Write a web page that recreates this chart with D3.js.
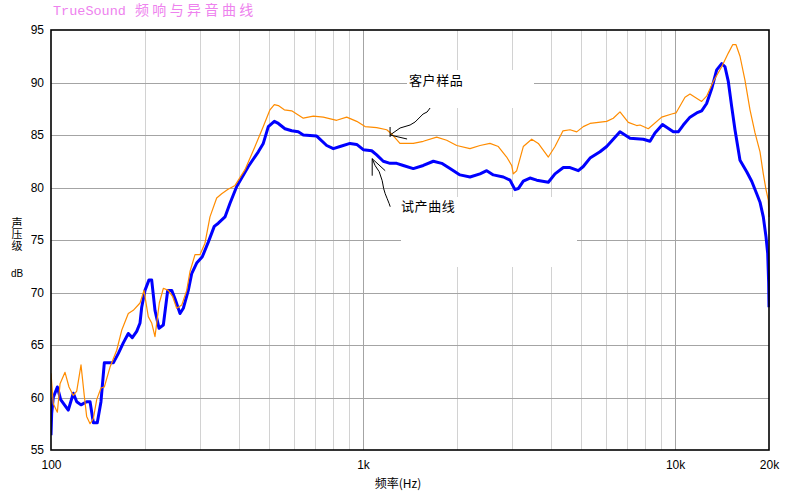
<!DOCTYPE html>
<html><head><meta charset="utf-8">
<script src="https://cdn.jsdelivr.net/npm/d3@7"></script>
<style>
body{margin:0;background:#fff;}
svg{display:block;font-family:"Liberation Sans",Arial,"Noto Sans CJK SC",sans-serif;}
</style>
</head><body>
<svg id="c" width="800" height="500"></svg>
<script>
// ---- text ----
const titleLatin = "TrueSound";
const titleCjk = "频响与异音曲线";
const yTitleText = "声压级";
const yUnit = "dB";
const xTitle = "频率(Hz)";
const sampleLabel = "客户样品";
const testLabel = "试产曲线";

// ---- ticks / grid ----
const yTicks = [55, 60, 65, 70, 75, 80, 85, 90, 95];
const yGrid = [60, 65, 70, 75, 80, 85, 90];
const xTickValues = [100, 1000, 10000, 20000];
const xTickLabels = ["100", "1k", "10k", "20k"];
const minorFreqs = [200, 300, 400, 500, 600, 700, 800, 900, 2000, 3000, 4000, 5000, 6000, 7000, 8000, 9000];
const majorFreqs = [1000, 10000];

// ---- series: 试产曲线 (blue) ----
const testFreq = [100, 100.5, 101.7, 104.8, 107.4, 113.6, 117.9, 120.9, 124.8, 130.1, 133.4, 136.7, 140.7, 144.6, 148.2, 158.4, 164.4, 170.5, 176.9, 182.2, 188.2, 192.9, 195.3, 200.1, 206.1, 210.2, 215.4, 221.9, 229.1, 236.6, 243.7, 249.7, 259.1, 265.5, 275.4, 282.4, 293, 305.4, 319.2, 333.6, 343.7, 361.1, 374.7, 393.7, 428.9, 461.7, 479, 497.1, 519.6, 535.2, 562.1, 590.6, 620.1, 643.5, 710.5, 764.8, 803.1, 843.9, 908.3, 954.3, 1002, 1066, 1106, 1161, 1221, 1282, 1346, 1449, 1560, 1680, 1787, 1900, 2045, 2202, 2371, 2491, 2616, 2816, 2958, 3069, 3145, 3263, 3428, 3603, 3925, 4123, 4384, 4607, 4897, 5080, 5339, 5747, 6037, 6660, 7171, 7912, 8311, 8621, 9114, 9870, 10240, 10625, 11164, 11730, 12168, 12623, 13100, 13597, 14107, 14454, 14811, 15187, 15560, 16147, 16967, 17604, 18265, 18716, 19176, 19564, 19809, 19950, 20000];
const testDb = [56.4, 58.5, 60.0, 61.0, 59.8, 58.8, 60.4, 59.6, 59.3, 59.6, 59.6, 57.6, 57.6, 59.6, 63.3, 63.3, 64.2, 65.2, 66.1, 65.7, 66.3, 67.1, 68.6, 70.2, 71.2, 71.2, 68.3, 66.6, 66.9, 70.2, 70.2, 69.4, 68.0, 68.5, 70.2, 71.8, 72.8, 73.4, 74.8, 76.3, 76.6, 77.2, 78.5, 80.1, 82.0, 83.4, 84.2, 85.8, 86.3, 86.1, 85.6, 85.4, 85.3, 85.0, 84.9, 84.0, 83.7, 83.9, 84.2, 84.1, 83.6, 83.5, 83.1, 82.5, 82.3, 82.3, 82.1, 81.8, 82.1, 82.5, 82.3, 81.8, 81.2, 81.0, 81.3, 81.6, 81.2, 81.0, 80.7, 79.8, 79.9, 80.6, 80.9, 80.7, 80.5, 81.3, 81.9, 81.9, 81.6, 82.0, 82.8, 83.4, 83.9, 85.3, 84.7, 84.6, 84.4, 85.2, 86.0, 85.3, 85.3, 85.95, 86.7, 87.1, 87.3, 88.0, 89.4, 91.2, 91.8, 91.5, 90.1, 87.7, 85.5, 82.6, 81.5, 80.6, 79.4, 78.6, 77.2, 75.3, 73.7, 70.9, 68.6];

// ---- series: 客户样品 (orange) ----
const sampleFreq = [100, 101.7, 104.8, 106.9, 110.9, 114.2, 117.9, 120.9, 124.8, 127.8, 130.1, 133.4, 136.7, 140.1, 144.6, 148.2, 154.6, 162.4, 168.5, 176.9, 183.5, 192.9, 198.6, 205.0, 210.2, 215.4, 222.4, 229.1, 237.6, 245.5, 252.8, 262.4, 272.2, 278.9, 289.4, 300.2, 311.5, 323.2, 339.6, 352.4, 368.4, 388.9, 418.5, 450.6, 479, 503.2, 519.6, 535.2, 559.3, 590.6, 620.1, 643.5, 692.9, 745.7, 823.3, 886.4, 954.3, 1015, 1106, 1191, 1235, 1313, 1449, 1560, 1722, 1854, 1996, 2202, 2371, 2552, 2714, 2886, 2995, 3031, 3108, 3263, 3472, 3645, 3925, 4123, 4374, 4607, 4839, 5080, 5339, 6037, 6339, 6660, 7082, 7534, 7720, 8208, 9060, 9754, 10069, 10760, 11164, 11584, 12168, 12623, 13256, 14107, 14811, 15299, 15679, 16147, 16754, 17385, 18040, 18716, 19176, 19564, 19897, 20000];
const sampleDb = [62.3, 59.4, 58.6, 61.3, 62.4, 61.0, 60.2, 60.6, 63.1, 60.2, 58.2, 57.5, 58.0, 59.8, 60.9, 61.0, 62.9, 64.5, 66.4, 68.0, 68.3, 69.0, 70.2, 67.7, 67.1, 65.8, 69.0, 70.4, 70.2, 69.6, 68.5, 68.8, 70.2, 72.0, 73.6, 73.6, 74.7, 77.2, 79.0, 79.4, 79.8, 80.2, 81.7, 83.9, 85.8, 87.4, 87.9, 87.8, 87.4, 87.3, 86.9, 86.6, 86.8, 86.7, 86.4, 86.7, 86.3, 85.8, 85.7, 85.5, 85.1, 84.2, 84.2, 84.4, 84.8, 84.5, 84.0, 83.7, 84.0, 84.2, 83.9, 82.9, 82.1, 81.3, 81.6, 83.9, 84.6, 84.2, 82.9, 83.9, 85.4, 85.5, 85.3, 85.8, 86.1, 86.3, 86.6, 87.2, 86.2, 85.9, 85.95, 85.6, 86.7, 87.0, 87.1, 88.6, 88.9, 88.6, 88.2, 88.7, 90.1, 91.5, 92.8, 93.6, 93.6, 92.5, 90.2, 87.4, 85.2, 83.4, 81.3, 79.8, 78.8, 77.2];

// ---- annotation anchors (data space) ----
const sampleArrowTip = [1221, 85.0];
const testArrowTip = [1070, 83.6];

// ---- layout ----
const W = 800, H = 500;
const L = 51, R = 769, T = 30, B = 450;

const svg = d3.select("#c");
svg.append("rect").attr("width", W).attr("height", H).attr("fill", "#fff");

const x = d3.scaleLog().domain([100, 20000]).range([L, R]);
const y = d3.scaleLinear().domain([55, 95]).range([B, T]);
const px = v => Math.round(v) + 0.5;

// grid
const grid = svg.append("g").attr("shape-rendering", "crispEdges");
grid.selectAll(".vmin").data(minorFreqs).join("line")
  .attr("x1", d => px(x(d))).attr("x2", d => px(x(d)))
  .attr("y1", T).attr("y2", B)
  .attr("stroke", "#d2d2d2").attr("stroke-width", 1);
grid.selectAll(".vmaj").data(majorFreqs).join("line")
  .attr("x1", d => px(x(d))).attr("x2", d => px(x(d)))
  .attr("y1", T).attr("y2", B)
  .attr("stroke", "#a4a4a4").attr("stroke-width", 1);
grid.selectAll(".h").data(yGrid).join("line")
  .attr("x1", L).attr("x2", R)
  .attr("y1", d => px(y(d))).attr("y2", d => px(y(d)))
  .attr("stroke", "#a4a4a4").attr("stroke-width", 1);

// white label boxes that hide the grid
svg.append("rect").attr("x", 407).attr("y", 70).attr("width", 127).attr("height", 38).attr("fill", "#fff");
svg.append("rect").attr("x", 401).attr("y", 197).attr("width", 176).attr("height", 70).attr("fill", "#fff");

// curves
const line = d3.line().x(d => x(d[0])).y(d => y(d[1]));
const testData = testFreq.map((f, i) => [f, testDb[i]]);
const sampleData = sampleFreq.map((f, i) => [f, sampleDb[i]]);

svg.append("clipPath").attr("id", "pc").append("rect")
  .attr("x", L).attr("y", T - 2).attr("width", R - L + 1).attr("height", B - T + 4);

svg.append("path").datum(testData).attr("d", line)
  .attr("fill", "none").attr("stroke", "#0000ff").attr("stroke-width", 3)
  .attr("stroke-linejoin", "round").attr("clip-path", "url(#pc)");
svg.append("path").datum(sampleData).attr("d", line)
  .attr("fill", "none").attr("stroke", "#ff8c00").attr("stroke-width", 1.2)
  .attr("stroke-linejoin", "round").attr("clip-path", "url(#pc)");

// frame
svg.append("rect").attr("x", L).attr("y", T).attr("width", R - L).attr("height", B - T)
  .attr("fill", "none").attr("stroke", "#000").attr("stroke-width", 1.6);

// axes (labels only)
const yAxis = d3.axisLeft(y).tickValues(yTicks).tickSize(0).tickPadding(7).tickFormat(d3.format("d"));
const gy = svg.append("g").attr("transform", `translate(${L},0)`).call(yAxis);
gy.select(".domain").remove();
gy.selectAll("text").attr("font-size", 12).attr("fill", "#000")
  .attr("font-family", '"Liberation Sans",Arial,sans-serif');

const xAxis = d3.axisBottom(x).tickValues(xTickValues).tickSize(0).tickPadding(10)
  .tickFormat((d, i) => xTickLabels[i]);
const gx = svg.append("g").attr("transform", `translate(0,${B})`).call(xAxis);
gx.select(".domain").remove();
gx.selectAll("text").attr("font-size", 12).attr("fill", "#000")
  .attr("font-family", '"Liberation Sans",Arial,sans-serif');

// title
const title = svg.append("text").attr("x", 53).attr("y", 15).attr("fill", "#ee82ee");
title.append("tspan").text(titleLatin)
  .attr("font-family", '"Liberation Mono","DejaVu Sans Mono",monospace').attr("font-size", 13.5);
title.append("tspan").text(titleCjk).attr("dx", 9)
  .attr("font-family", '"Noto Sans CJK SC",sans-serif').attr("font-size", 14).attr("letter-spacing", 3.4);

// y title: vertical text
svg.append("text").attr("x", 17).attr("y", 217)
  .style("writing-mode", "vertical-rl")
  .attr("font-family", '"Noto Sans CJK SC",sans-serif').attr("font-size", 11)
  .attr("letter-spacing", 0.5).attr("fill", "#000").text(yTitleText);
svg.append("text").attr("x", 17).attr("y", 277).attr("text-anchor", "middle")
  .attr("font-size", 10).attr("fill", "#000").text(yUnit);

// x title
svg.append("text").attr("x", 398).attr("y", 488).attr("text-anchor", "middle")
  .attr("font-family", '"Noto Sans CJK SC","Liberation Sans",sans-serif')
  .attr("font-size", 12).attr("fill", "#000").text(xTitle);

// annotations
svg.append("text").attr("x", 409).attr("y", 85)
  .attr("font-family", '"Noto Sans CJK SC",sans-serif').attr("font-size", 13)
  .attr("letter-spacing", 0.6).attr("fill", "#000").text(sampleLabel);
svg.append("text").attr("x", 401).attr("y", 211)
  .attr("font-family", '"Noto Sans CJK SC",sans-serif').attr("font-size", 13)
  .attr("letter-spacing", 0.6).attr("fill", "#000").text(testLabel);

const a1x = x(sampleArrowTip[0]), a1y = y(sampleArrowTip[1]);
const arrow1 = [[40, -27], [37, -23], [33, -21], [30, -18], [25, -13], [20, -10], [10, -7], [0, 0]];
svg.append("path")
  .attr("d", d3.line()(arrow1.map(p => [a1x + p[0], a1y + p[1]])))
  .attr("fill", "none").attr("stroke", "#000").attr("stroke-width", 1);
svg.append("path")
  .attr("d", `M${a1x},${a1y - 8}L${a1x},${a1y + 2}M${a1x},${a1y}L${a1x + 17},${a1y + 4}`)
  .attr("fill", "none").attr("stroke", "#000").attr("stroke-width", 1);

const a2x = x(testArrowTip[0]), a2y = y(testArrowTip[1]) + 9;
const arrow2 = [[0, 0], [3, 7], [7, 13], [10, 22], [11.5, 30], [13, 35], [15, 40], [17, 45], [18, 48]];
svg.append("path")
  .attr("d", d3.line()(arrow2.map(p => [a2x + p[0], a2y + p[1]])))
  .attr("fill", "none").attr("stroke", "#000").attr("stroke-width", 1);
svg.append("path")
  .attr("d", `M${a2x},${a2y}L${a2x},${a2y + 17}M${a2x},${a2y}L${a2x + 13},${a2y + 12}`)
  .attr("fill", "none").attr("stroke", "#000").attr("stroke-width", 1);
</script>
</body></html>
